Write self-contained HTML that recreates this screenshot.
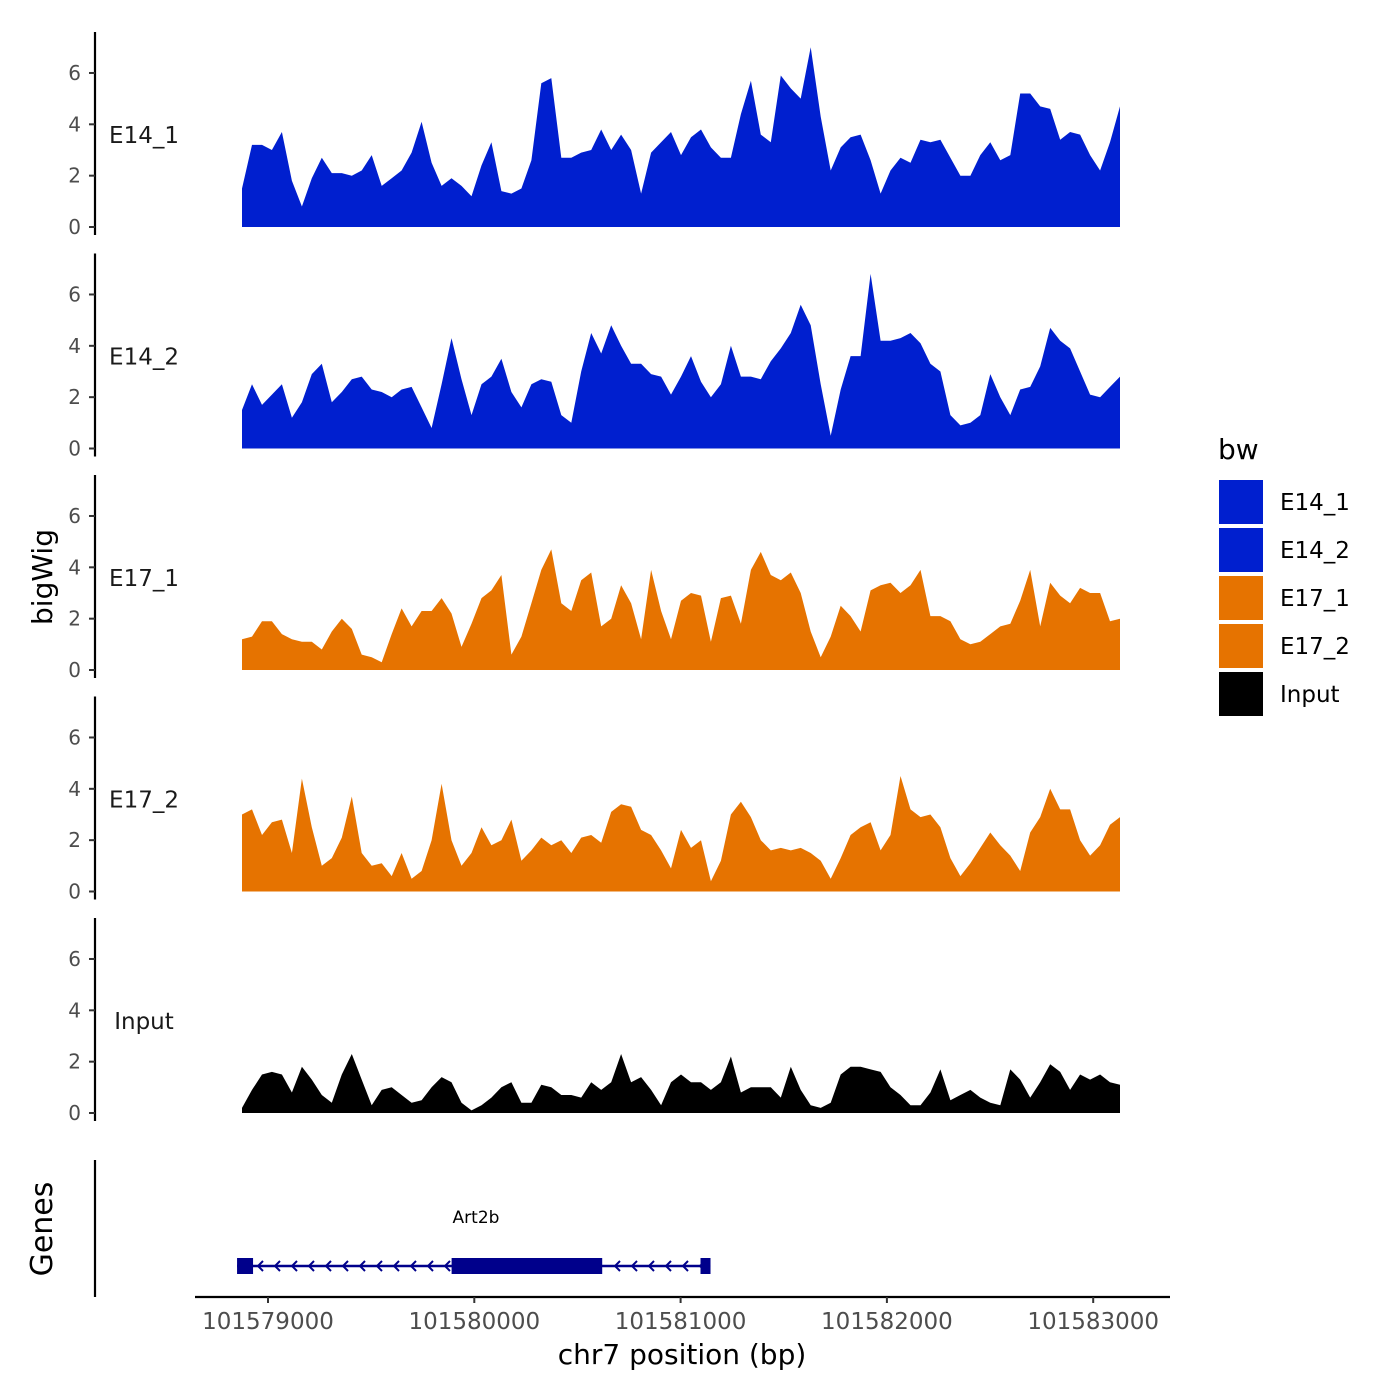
<!DOCTYPE html>
<html><head><meta charset="utf-8"><style>
html,body{margin:0;padding:0;background:#fff;}
svg{display:block;font-family:"DejaVu Sans","Liberation Sans",sans-serif;}
</style></head><body>
<svg id="chart" width="1400" height="1400" viewBox="0 0 1400 1400" xmlns="http://www.w3.org/2000/svg">
<rect width="1400" height="1400" fill="#fff"/>
<g id="tracks"></g>
<text transform="translate(52,577) rotate(-90)" text-anchor="middle" font-size="28" fill="#000">bigWig</text>
<text transform="translate(52,1229) rotate(-90)" text-anchor="middle" font-size="30" fill="#000">Genes</text>
<line x1="95" y1="1160" x2="95" y2="1297" stroke="#000" stroke-width="2.2"/>
<g id="genes"></g>
<g id="xaxis"></g>
<text x="682" y="1364" text-anchor="middle" font-size="28" fill="#000">chr7 position (bp)</text>
<g id="legend"></g>
</svg>
<script>
const trackNames = ["E14_1","E14_2","E17_1","E17_2","Input"];
const trackColors = ["#001FCF","#001FCF","#E67300","#E67300","#000000"];
const yTicks = [0,2,4,6];
const xTicks = [101579000,101580000,101581000,101582000,101583000];
const regionStart = 101578874;
const regionEnd = 101583130;
const e14_1 = [1.5,3.2,3.2,3.0,3.7,1.8,0.8,1.9,2.7,2.1,2.1,2.0,2.2,2.8,1.6,1.9,2.2,2.9,4.1,2.5,1.6,1.9,1.6,1.2,2.4,3.3,1.4,1.3,1.5,2.6,5.6,5.8,2.7,2.7,2.9,3.0,3.8,3.0,3.6,3.0,1.3,2.9,3.3,3.7,2.8,3.5,3.8,3.1,2.7,2.7,4.4,5.7,3.6,3.3,5.9,5.4,5.0,7.0,4.3,2.2,3.1,3.5,3.6,2.6,1.3,2.2,2.7,2.5,3.4,3.3,3.4,2.7,2.0,2.0,2.8,3.3,2.6,2.8,5.2,5.2,4.7,4.6,3.4,3.7,3.6,2.8,2.2,3.3,4.7];
const e14_2 = [1.5,2.5,1.7,2.1,2.5,1.2,1.8,2.9,3.3,1.8,2.2,2.7,2.8,2.3,2.2,2.0,2.3,2.4,1.6,0.8,2.5,4.3,2.7,1.3,2.5,2.8,3.5,2.2,1.6,2.5,2.7,2.6,1.3,1.0,3.0,4.5,3.7,4.8,4.0,3.3,3.3,2.9,2.8,2.1,2.8,3.6,2.6,2.0,2.5,4.0,2.8,2.8,2.7,3.4,3.9,4.5,5.6,4.8,2.5,0.5,2.3,3.6,3.6,6.8,4.2,4.2,4.3,4.5,4.1,3.3,3.0,1.3,0.9,1.0,1.3,2.9,2.0,1.3,2.3,2.4,3.2,4.7,4.2,3.9,3.0,2.1,2.0,2.4,2.8];
const e17_1 = [1.2,1.3,1.9,1.9,1.4,1.2,1.1,1.1,0.8,1.5,2.0,1.6,0.6,0.5,0.3,1.4,2.4,1.7,2.3,2.3,2.8,2.2,0.9,1.8,2.8,3.1,3.7,0.6,1.3,2.6,3.9,4.7,2.6,2.3,3.5,3.8,1.7,2.0,3.3,2.6,1.2,3.9,2.3,1.2,2.7,3.0,2.9,1.1,2.8,2.9,1.8,3.9,4.6,3.7,3.5,3.8,3.0,1.5,0.5,1.3,2.5,2.1,1.5,3.1,3.3,3.4,3.0,3.3,3.9,2.1,2.1,1.9,1.2,1.0,1.1,1.4,1.7,1.8,2.7,3.9,1.7,3.4,2.9,2.6,3.2,3.0,3.0,1.9,2.0];
const e17_2 = [3.0,3.2,2.2,2.7,2.8,1.5,4.4,2.5,1.0,1.3,2.1,3.7,1.5,1.0,1.1,0.6,1.5,0.5,0.8,2.0,4.2,2.0,1.0,1.5,2.5,1.8,2.0,2.8,1.2,1.6,2.1,1.8,2.0,1.5,2.1,2.2,1.9,3.1,3.4,3.3,2.4,2.2,1.6,0.9,2.4,1.7,2.0,0.4,1.2,3.0,3.5,2.9,2.0,1.6,1.7,1.6,1.7,1.5,1.2,0.5,1.3,2.2,2.5,2.7,1.6,2.2,4.5,3.2,2.9,3.0,2.5,1.3,0.6,1.1,1.7,2.3,1.8,1.4,0.8,2.3,2.9,4.0,3.2,3.2,2.0,1.4,1.8,2.6,2.9];
const input = [0.2,0.9,1.5,1.6,1.5,0.8,1.8,1.3,0.7,0.4,1.5,2.3,1.3,0.3,0.9,1.0,0.7,0.4,0.5,1.0,1.4,1.2,0.4,0.1,0.3,0.6,1.0,1.2,0.4,0.4,1.1,1.0,0.7,0.7,0.6,1.2,0.9,1.2,2.3,1.2,1.4,0.9,0.3,1.2,1.5,1.2,1.2,0.9,1.2,2.2,0.8,1.0,1.0,1.0,0.6,1.8,0.9,0.3,0.2,0.4,1.5,1.8,1.8,1.7,1.6,1.0,0.7,0.3,0.3,0.8,1.7,0.5,0.7,0.9,0.6,0.4,0.3,1.7,1.3,0.6,1.2,1.9,1.6,0.9,1.5,1.3,1.5,1.2,1.1];
const geneName = "Art2b";
const geneStart = 101578850;
const geneEnd = 101581145;
const cdsStart = 101579890;
const cdsEnd = 101580620;
const legendLabels = ["E14_1","E14_2","E17_1","E17_2","Input"];
const legendColors = ["#001FCF","#001FCF","#E67300","#E67300","#000000"];

const NS = "http://www.w3.org/2000/svg";
function mk(tag, attrs, parent){const e=document.createElementNS(NS,tag);for(const k in attrs)e.setAttribute(k,attrs[k]);parent.appendChild(e);return e;}
const xScale = bp => 268 + (bp - 101579000) * 0.2063;
const baselines = [227, 448.5, 670, 891.5, 1113];
const ppu = 25.67;
const series = [e14_1, e14_2, e17_1, e17_2, input];
const tracksG = document.getElementById('tracks');

series.forEach((vals, t) => {
  const base = baselines[t];
  const yS = v => base - v * ppu;
  const g = mk('g', {}, tracksG);
  
  
  const n = vals.length;
  let pts = [];
  pts.push(xScale(regionStart).toFixed(1) + ',' + base);
  vals.forEach((v, i) => {
    const bp = regionStart + (regionEnd - regionStart) * i / (n - 1);
    pts.push(xScale(bp).toFixed(1) + ',' + yS(v).toFixed(1));
  });
  pts.push(xScale(regionEnd).toFixed(1) + ',' + base);
  const area = mk('polygon', {points: pts.join(' '), fill: trackColors[t]}, g);
  
  
  const ax = mk('line', {x1:95, y1: base - 195, x2:95, y2: base + 8, stroke:'#000', 'stroke-width':2.2}, g);
  
  
  yTicks.forEach(tv => {
    const y = yS(tv);
    const tk = mk('line', {x1:89, y1:y, x2:95, y2:y, stroke:'#333', 'stroke-width':2}, g);
    
    
    const tl = mk('text', {x:81, y:y+7, 'text-anchor':'end', 'font-size':20, fill:'#4d4d4d'}, g);
    tl.textContent = tv;
    
    
  });
  const lab = mk('text', {x:144, y: base - 84, 'text-anchor':'middle', 'font-size':23, fill:'#1a1a1a'}, g);
  lab.textContent = trackNames[t];
  
  
});

const gg = document.getElementById('genes');
const gy = 1266;
const x0 = xScale(geneStart), x1 = xScale(geneEnd), c0 = xScale(cdsStart), c1 = xScale(cdsEnd);
const gl = mk('line', {x1:x0, y1:gy, x2:x1, y2:gy, stroke:'#00008B', 'stroke-width':2.5}, gg);


for (let x = 258; x < x1 - 8; x += 17) {
  if (x > c0 - 6 && x < c1 + 4) continue;
  const ch = mk('polyline', {points:`${x+5},${gy-5} ${x},${gy} ${x+5},${gy+5}`, fill:'none', stroke:'#00008B', 'stroke-width':2}, gg);
  
  
}
const ex1 = mk('rect', {x:x0, y:gy-8, width:16, height:16, fill:'#00008B'}, gg);


const ex2 = mk('rect', {x:x1-10, y:gy-8, width:10, height:16, fill:'#00008B'}, gg);


const cds = mk('rect', {x:c0, y:gy-8, width:c1-c0, height:16, fill:'#00008B'}, gg);


const gn = mk('text', {x:476, y:1223, 'text-anchor':'middle', 'font-size':17, fill:'#000'}, gg);
gn.textContent = geneName;



const xg = document.getElementById('xaxis');
const xl = mk('line', {x1:195, y1:1297, x2:1170, y2:1297, stroke:'#000', 'stroke-width':2.2}, xg);


xTicks.forEach(v => {
  const x = xScale(v);
  const tk = mk('line', {x1:x, y1:1297, x2:x, y2:1303, stroke:'#333', 'stroke-width':2}, xg);
  
  
  const tl = mk('text', {x:x, y:1329, 'text-anchor':'middle', 'font-size':23, fill:'#4d4d4d'}, xg);
  tl.textContent = v;
  
  
});

const lg = document.getElementById('legend');
const lt = mk('text', {x:1218, y:459, 'font-size':28, fill:'#000'}, lg);
lt.textContent = 'bw';


legendLabels.forEach((l, i) => {
  const y = 480 + i * 48;
  const e = mk('g', {}, lg);
  
  
  const r = mk('rect', {x:1219, y:y, width:44, height:44, fill:legendColors[i]}, e);
  
  
  const t = mk('text', {x:1280, y:y+30, 'font-size':23, fill:'#000'}, e);
  t.textContent = l;
  
  
});
</script>
</body></html>
